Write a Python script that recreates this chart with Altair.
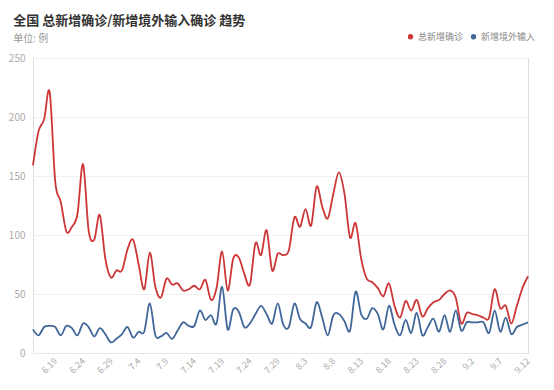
import altair as alt
import pandas as pd

FONT = "Noto Sans CJK SC"

dates = [f"{d.month}.{d.day}" for d in pd.date_range("2020-06-15", "2020-09-12", freq="D")]

total_new = [159,188,198,221,145,128,103,107,118,160,
             104,96,117,80,64,70,70,88,96,75,
             54,85,56,47,63,58,59,53,54,57,
             54,62,45,55,86,53,80,81,67,58,
             93,83,104,70,84,83,87,115,107,122,
             108,141,124,114,135,153,135,98,110,80,
             63,60,55,48,59,40,30,44,36,45,
             31,38,43,45,50,53,47,25,34,33,
             32,30,30,54,38,40,25,40,55,65]

imported_new = [20,15,22,23,22,15,23,21,15,25,
                22,14,21,16,9,12,16,22,13,18,
                18,42,15,14,17,12,19,26,23,23,
                36,28,32,25,56,20,37,35,22,25,
                33,40,33,25,42,24,22,42,29,25,
                22,43,30,15,32,33,27,19,52,33,
                29,38,33,20,40,24,15,28,17,34,
                15,22,29,18,32,18,36,19,26,26,
                26,26,17,36,18,30,16,22,24,26]

series_names = ["总新增确诊", "新增境外输入"]
series_colors = ["#cc3637", "#41669a"]
x_ticks = ["6.19", "6.24", "6.29", "7.4", "7.9", "7.14", "7.19", "7.24", "7.29",
           "8.3", "8.8", "8.13", "8.18", "8.23", "8.28", "9.2", "9.7", "9.12"]
y_ticks = [0, 50, 100, 150, 200, 250]

rows = []
for i, d in enumerate(dates):
    rows.append({"date": d, "order": i, "series": series_names[0], "value": total_new[i]})
    rows.append({"date": d, "order": i, "series": series_names[1], "value": imported_new[i]})
df = pd.DataFrame(rows)

x_enc = alt.X("date:O", sort=dates, title=None,
              scale=alt.Scale(type="point", padding=0),
              axis=alt.Axis(values=x_ticks, labelAngle=-45, labelAlign="right",
                            labelBaseline="middle", labelFontSize=9, labelColor="#aaaaaa",
                            labelFont=FONT, ticks=False, domainColor="#e6e6e6",
                            labelPadding=6, grid=False, labelFlush=False))
y_enc = alt.Y("value:Q", title=None,
              scale=alt.Scale(domain=[0, 250], nice=False),
              axis=alt.Axis(values=y_ticks, ticks=False, domain=False,
                            gridColor="#f0f0f0", labelColor="#aaaaaa", labelFontSize=10,
                            labelFont=FONT, labelPadding=8))
color_enc = alt.Color("series:N",
                      scale=alt.Scale(domain=series_names, range=series_colors),
                      legend=alt.Legend(title=None, orient="none", direction="horizontal",
                                        legendX=373, legendY=-26, symbolType="circle",
                                        symbolSize=28, labelFontSize=9, labelColor="#888888",
                                        labelFont=FONT, columnPadding=5, labelOffset=3,
                                        symbolStrokeWidth=0))

base = alt.Chart(df).encode(x=x_enc, y=y_enc, color=color_enc, detail="series:N", order="order:Q")

points = base.mark_point(filled=True, size=0, opacity=1)
lines = base.mark_line(interpolate="cardinal", strokeWidth=1.8)

chart = alt.layer(points, lines).properties(
    width=495,
    height=295,
    padding={"left": 25, "top": 50, "right": 18, "bottom": 30},
    autosize=alt.AutoSizeParams(type="none"),
    title=alt.TitleParams(
        text="全国 总新增确诊/新增境外输入确诊 趋势",
        subtitle="单位: 例",
        anchor="start", dx=5, offset=-12,
        font=FONT, fontSize=13, fontWeight="bold", color="#333333",
        subtitleFont=FONT, subtitleFontSize=10, subtitleColor="#999999",
        subtitlePadding=6,
    ),
).configure_view(stroke=None).configure(background="white")

chart.save("out.html", embed_options={"renderer": "svg", "actions": False})
